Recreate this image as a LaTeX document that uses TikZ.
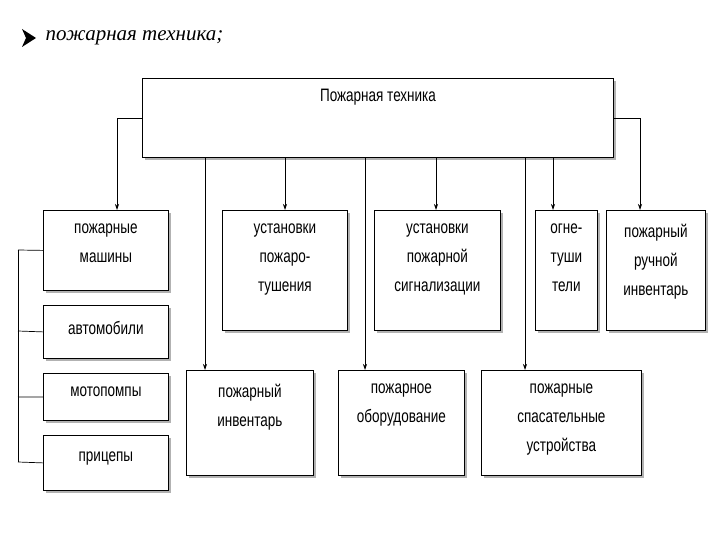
\documentclass[tikz,border=0pt]{standalone}
\usepackage{fontspec}
\setmainfont{Liberation Sans}
\newfontfamily\nar{Liberation Sans}[FakeStretch=0.75]
\newfontfamily\ttl{Liberation Serif}
\usetikzlibrary{arrows.meta,calc}
\begin{document}
\begin{tikzpicture}[x=1pt,y=-1pt,
 bx/.style={draw,line width=0.8pt,fill=white,inner sep=0pt},
 tx/.style={align=center,inner sep=0pt,anchor=north,font=\nar\fontsize{18}{29}\selectfont},
 ar/.style={-{Stealth[length=6pt,width=4pt]},line width=0.7pt},
 ln/.style={line width=0.7pt}]
\useasboundingbox (0,0) rectangle (720,540);
% bullet + title
\fill (22,29) -- (36,38) -- (22,47) -- (26,38) -- cycle;
\node[anchor=west,font=\ttl\itshape\fontsize{21}{24}\selectfont] (title) at (42,38) {пожарная техника;};
\newcommand{\mybox}[7]{%
 \fill[gray!60] (#2+3,#3+3) rectangle (#4+3,#5+3);
 \node[bx,minimum width=#4-#2,minimum height=#5-#3,anchor=north west] (#1) at (#2,#3) {};
 \node[tx] (#1t) at ($(#1.north)+(0,#6)$) {#7};}
\fill[gray!60] (145,81) rectangle (616,160);
\node[bx,minimum width=471,minimum height=79,anchor=north west] (top) at (142,78) {};
\node[tx] (toplbl) at (378,89) {Пожарная техника};
\mybox{m}{43}{210}{168}{290}{14}{пожарные\\машины}
\mybox{a}{43}{305}{168}{358}{16}{автомобили}
\mybox{mp}{43}{373}{168}{420}{14}{мотопомпы}
\mybox{p}{43}{435}{168}{490}{17}{прицепы}
\mybox{u1}{222}{210}{347}{330}{14}{установки\\пожаро-\\тушения}
\mybox{u2}{374}{210}{500}{330}{14}{установки\\пожарной\\сигнализации}
\mybox{o}{535}{210}{597}{330}{14}{огне-\\туши\\тели}
\mybox{r}{606}{210}{705}{330}{14}{пожарный\\ручной\\инвентарь}
\mybox{i}{186}{370}{313}{475}{14}{пожарный\\инвентарь}
\mybox{ob}{338}{370}{464}{475}{14}{пожарное\\оборудование}
\mybox{s}{481}{370}{641}{475}{14}{пожарные\\спасательные\\устройства}
% connectors
\draw[ar] (top.west |- 0,118) -| (m.north -| 117,0);
\draw[ar] (top.east |- 0,118) -| (r.north -| 640,0);
\draw[ar] (top.south -| 285,0) -- (u1.north -| 285,0);
\draw[ar] (top.south -| 436,0) -- (u2.north -| 436,0);
\draw[ar] (top.south -| 553,0) -- (o.north -| 553,0);
\draw[ar] (top.south -| 205,0) -- (i.north -| 205,0);
\draw[ar] (top.south -| 365,0) -- (ob.north -| 365,0);
\draw[ar] (top.south -| 525,0) -- (s.north -| 525,0);
\coordinate (b1) at (18,250);
\coordinate (b2) at (18,462);
\draw[ln] (b1) -- (b2);
\draw[ln] (b1) -- (m.west);
\draw[ln] (18,331) -- (a.west);
\draw[ln] (18,397) -- (mp.west);
\draw[ln] (b2) -- (p.west);
\end{tikzpicture}
\end{document}
